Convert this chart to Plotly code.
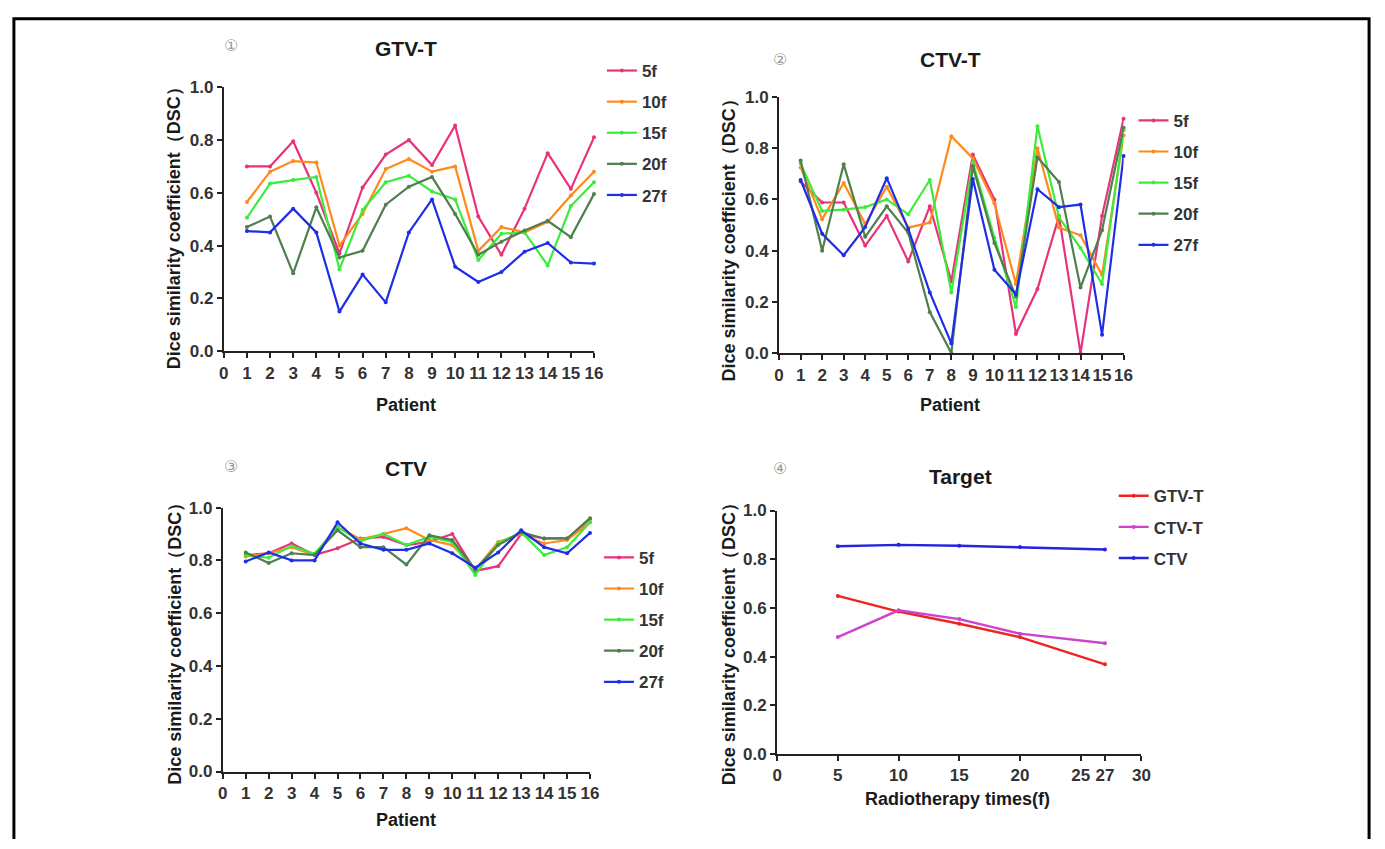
import plotly.graph_objects as go

W, H = 1385, 849

patients = list(range(1, 17))
series_names = ["5f", "10f", "15f", "20f", "27f"]
series_colors = ["#e8327c", "#ff8a1c", "#3cec3c", "#4f7f4f", "#1f2ee6"]

# Panel 1: GTV-T
gtv_5f = [0.70, 0.70, 0.795, 0.60, 0.37, 0.62, 0.745, 0.80, 0.705, 0.855, 0.51, 0.365, 0.54, 0.75, 0.615, 0.81]
gtv_10f = [0.565, 0.68, 0.72, 0.715, 0.40, 0.52, 0.69, 0.728, 0.68, 0.70, 0.38, 0.47, 0.45, 0.49, 0.59, 0.68]
gtv_15f = [0.505, 0.635, 0.648, 0.66, 0.31, 0.535, 0.64, 0.665, 0.605, 0.575, 0.345, 0.445, 0.45, 0.325, 0.55, 0.64]
gtv_20f = [0.47, 0.51, 0.295, 0.545, 0.355, 0.38, 0.555, 0.623, 0.66, 0.52, 0.365, 0.415, 0.457, 0.494, 0.432, 0.595]
gtv_27f = [0.455, 0.45, 0.54, 0.45, 0.15, 0.29, 0.185, 0.45, 0.575, 0.32, 0.262, 0.30, 0.377, 0.41, 0.336, 0.332]

# Panel 2: CTV-T
ctvt_5f = [0.67, 0.588, 0.588, 0.42, 0.535, 0.358, 0.573, 0.28, 0.775, 0.60, 0.075, 0.25, 0.535, 0.0, 0.535, 0.915]
ctvt_10f = [0.725, 0.523, 0.664, 0.504, 0.65, 0.49, 0.51, 0.847, 0.76, 0.585, 0.27, 0.80, 0.49, 0.46, 0.305, 0.85]
ctvt_15f = [0.74, 0.555, 0.56, 0.57, 0.60, 0.542, 0.676, 0.237, 0.745, 0.45, 0.18, 0.886, 0.53, 0.41, 0.27, 0.87]
ctvt_20f = [0.752, 0.40, 0.737, 0.454, 0.573, 0.47, 0.16, 0.0, 0.73, 0.43, 0.22, 0.765, 0.668, 0.256, 0.48, 0.88]
ctvt_27f = [0.676, 0.466, 0.382, 0.492, 0.683, 0.485, 0.237, 0.038, 0.68, 0.326, 0.23, 0.64, 0.57, 0.58, 0.072, 0.77]

# Panel 3: CTV
ctv_5f = [0.82, 0.827, 0.864, 0.82, 0.846, 0.883, 0.889, 0.858, 0.87, 0.90, 0.76, 0.778, 0.90, 0.883, 0.883, 0.957]
ctv_10f = [0.815, 0.827, 0.85, 0.82, 0.926, 0.88, 0.90, 0.922, 0.877, 0.858, 0.765, 0.87, 0.90, 0.864, 0.877, 0.944]
ctv_15f = [0.82, 0.81, 0.854, 0.825, 0.926, 0.873, 0.90, 0.858, 0.889, 0.87, 0.745, 0.864, 0.907, 0.82, 0.85, 0.944]
ctv_20f = [0.83, 0.79, 0.827, 0.82, 0.914, 0.85, 0.85, 0.784, 0.895, 0.877, 0.765, 0.858, 0.907, 0.883, 0.883, 0.96]
ctv_27f = [0.796, 0.83, 0.80, 0.80, 0.944, 0.864, 0.84, 0.84, 0.864, 0.827, 0.772, 0.83, 0.914, 0.85, 0.827, 0.904]

# Panel 4: Target means
times = [5, 10, 15, 20, 27]
target_names = ["GTV-T", "CTV-T", "CTV"]
target_colors = ["#ee2424", "#cc44cc", "#2424dd"]
target_gtvt = [0.649, 0.585, 0.535, 0.48, 0.368]
target_ctvt = [0.48, 0.59, 0.554, 0.494, 0.455]
target_ctv = [0.853, 0.859, 0.855, 0.85, 0.84]

patient_ticks = list(range(0, 17))
time_ticks = [0, 5, 10, 15, 20, 25, 27, 30]
y_ticks = [0.0, 0.2, 0.4, 0.6, 0.8, 1.0]
y_ticklabels = ["0.0", "0.2", "0.4", "0.6", "0.8", "1.0"]

panel_titles = ["GTV-T", "CTV-T", "CTV", "Target"]
panel_marks = ["①", "②", "③", "④"]
ytitle = "Dice similarity coefficient（DSC）"

# pixel boxes (left, right, top, bottom) of each plot area
boxes = [(221, 595, 80, 350), (782, 1130, 90, 352), (220, 591, 510, 780), (780, 1148, 513, 762)]

def px(x):
    return x / W

def py(y):
    return 1 - y / H

fig = go.Figure()

panels = [
    [gtv_5f, gtv_10f, gtv_15f, gtv_20f, gtv_27f],
    [ctvt_5f, ctvt_10f, ctvt_15f, ctvt_20f, ctvt_27f],
    [ctv_5f, ctv_10f, ctv_15f, ctv_20f, ctv_27f],
]
legend_ids = ["legend", "legend2", "legend3", "legend4"]
axis_ids = ["", "2", "3", "4"]

for p, data in enumerate(panels):
    for name, col, vals in zip(series_names, series_colors, data):
        fig.add_trace(go.Scatter(
            x=patients, y=vals, name=name, mode="lines+markers",
            line=dict(color=col, width=2.2),
            marker=dict(color=col, size=4),
            xaxis="x" + axis_ids[p], yaxis="y" + axis_ids[p],
            legend=legend_ids[p], legendgroup=f"p{p}{name}", cliponaxis=False,
        ))

for name, col, vals in zip(target_names, target_colors, [target_gtvt, target_ctvt, target_ctv]):
    fig.add_trace(go.Scatter(
        x=times, y=vals, name=name, mode="lines+markers",
        line=dict(color=col, width=2.4),
        marker=dict(color=col, size=4),
        xaxis="x4", yaxis="y4",
        legend="legend4", legendgroup=f"p3{name}", cliponaxis=False,
    ))

tickfont = dict(family="Liberation Sans, Arial", size=17, color="#333333", weight="bold")
layout = dict(
    width=W, height=H, margin=dict(l=0, r=0, t=0, b=0),
    paper_bgcolor="white", plot_bgcolor="white", showlegend=True,
)

for i, (l, r, t, b) in enumerate(boxes):
    xa = "xaxis" + axis_ids[i]
    ya = "yaxis" + axis_ids[i]
    if i < 3:
        xr = [0, 16]
        xt = patient_ticks
    else:
        xr = [0, 30]
        xt = time_ticks
    layout[xa] = dict(
        domain=[px(l), px(r)], range=xr, tickmode="array", tickvals=xt,
        ticktext=[str(v) for v in xt], showline=True, linecolor="#222222", linewidth=2,
        ticks="outside", ticklen=5, tickwidth=2, tickcolor="#222222", showgrid=False,
        zeroline=False, tickfont=tickfont, anchor="y" + axis_ids[i],
    )
    layout[ya] = dict(
        domain=[py(b), py(t)], range=[0, 1], tickmode="array", tickvals=y_ticks,
        ticktext=y_ticklabels, showline=True, linecolor="#222222", linewidth=2,
        ticks="outside", ticklen=5, tickwidth=2, tickcolor="#222222", showgrid=False,
        zeroline=False, tickfont=tickfont, anchor="x" + axis_ids[i],
    )

legend_pos = [(603, 45), (1140, 96), (600, 543), (1120, 480)]
for lid, (lx, ly) in zip(legend_ids, legend_pos):
    layout[lid] = dict(
        x=px(lx), y=py(ly), xanchor="left", yanchor="top",
        font=dict(family="Liberation Sans, Arial", size=17, color="#333333", weight="bold"),
        bgcolor="rgba(0,0,0,0)", itemwidth=30, tracegroupgap=6,
        traceorder="grouped",
    )

fig.update_layout(**layout)

annotations = []
title_pos = [(405, 40), (955, 52), (405, 470), (965, 478)]
mark_pos = [(228, 37), (783, 52), (228, 468), (783, 470)]
ytitle_pos = [(171, 220), (731, 232), (171, 645), (731, 645)]
xtitle_text = ["Patient", "Patient", "Patient", "Radiotherapy times(f)"]
xtitle_pos = [(405, 405), (955, 405), (405, 830), (962, 808)]
common = dict(xref="paper", yref="paper", showarrow=False, xanchor="center", yanchor="middle")
for i in range(4):
    annotations.append(dict(text=panel_titles[i], x=px(title_pos[i][0]), y=py(title_pos[i][1]),
                            font=dict(family="Liberation Sans, Arial", size=21, color="#1a1a1a", weight="bold"), **common))
    annotations.append(dict(text=panel_marks[i], x=px(mark_pos[i][0]), y=py(mark_pos[i][1]),
                            font=dict(family="DejaVu Sans", size=16, color="#999999"), **common))
    annotations.append(dict(text=ytitle, x=px(ytitle_pos[i][0]), y=py(ytitle_pos[i][1]), textangle=-90,
                            font=dict(family="Liberation Sans, Arial", size=18, color="#1a1a1a", weight="bold"), **common))
    annotations.append(dict(text=xtitle_text[i], x=px(xtitle_pos[i][0]), y=py(xtitle_pos[i][1]),
                            font=dict(family="Liberation Sans, Arial", size=18, color="#1a1a1a", weight="bold"), **common))

fig.update_layout(annotations=annotations)

# open frame (left, top, right edges; bottom runs off the page)
fx0, fx1, fy1 = px(9), px(1378), py(10)
fig.add_shape(type="path", xref="paper", yref="paper",
              path=f"M {fx0},0 L {fx0},{fy1} L {fx1},{fy1} L {fx1},0",
              line=dict(color="black", width=3))

fig.write_html(
    "out.html",
    config={"displayModeBar": False},
    post_script="document.body.style.margin='0';document.body.style.overflow='hidden';",
)
